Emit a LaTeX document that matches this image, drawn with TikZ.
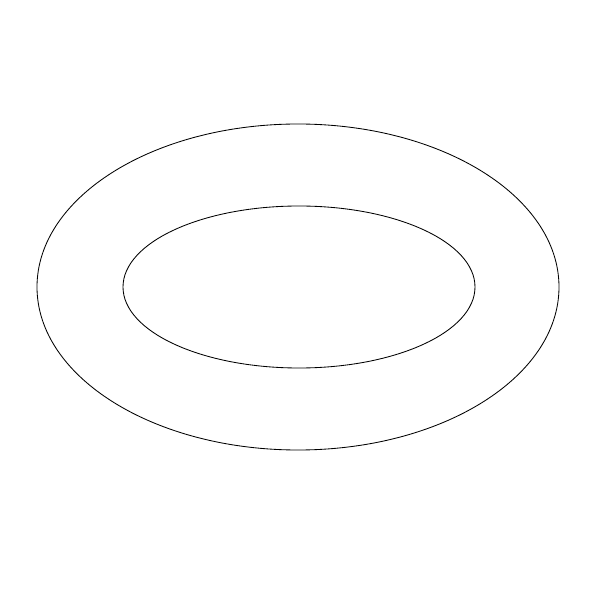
\documentclass[tikz,border=0pt]{standalone}
\usepackage{tikz}
\begin{document}
\begin{tikzpicture}
			%%%%% START %%%%%
			\useasboundingbox (0, 0) rectangle (15, 15);
			
			\draw[line width=0.6pt] (7.45, 7.825) ellipse (6.525 and 4.075);
			
			\draw[line width=0.6pt] (7.475, 7.825) ellipse (4.4 and 2.025);
			%%%%% END %%%%%
\end{tikzpicture}
\end{document}
